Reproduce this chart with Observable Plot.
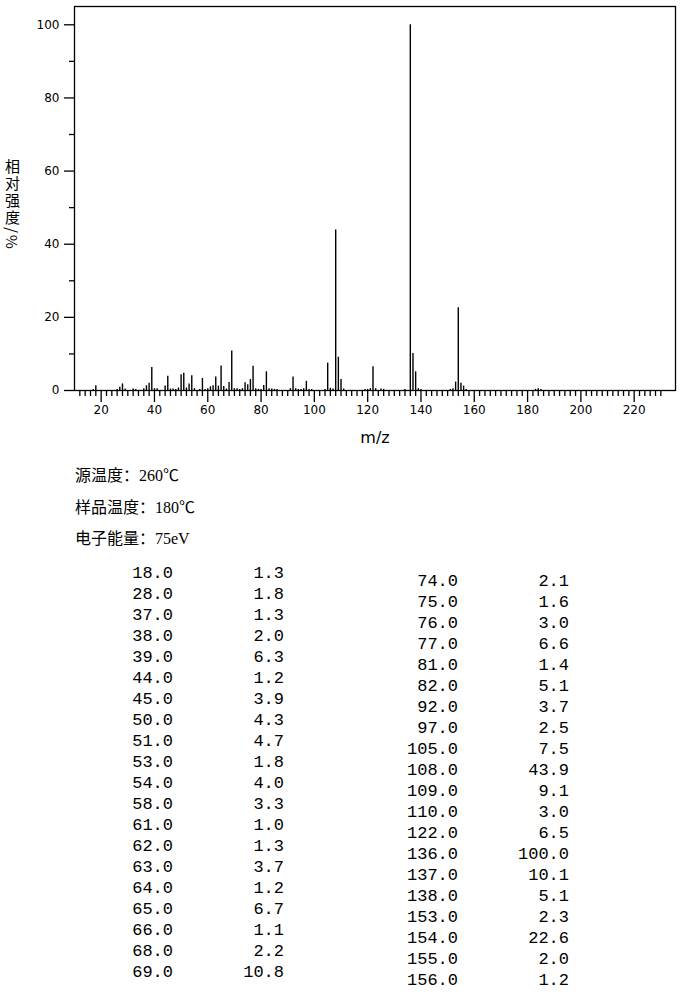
<!DOCTYPE html>
<html>
<head>
<meta charset="utf-8">
<script src="https://cdn.jsdelivr.net/npm/d3@7"></script>
<script src="https://cdn.jsdelivr.net/npm/@observablehq/plot@0.6"></script>
<style>
  body { margin: 0; background: #fff; }
  #wrap { position: relative; width: 680px; height: 992px; overflow: hidden; }
  #ylab { position: absolute; left: 2px; top: 159px; writing-mode: vertical-rl; text-orientation: mixed; font-family: "Noto Sans CJK SC", sans-serif; font-size: 15px; line-height: 20px; letter-spacing: 2px; color: #000; white-space: nowrap; }
  .cond { position: absolute; left: 75px; font-family: "Liberation Serif", "Noto Sans CJK SC", serif; font-size: 16px; line-height: 18px; color: #000; white-space: nowrap; }
  .cell { position: absolute; font-family: "Liberation Mono", "DejaVu Sans Mono", monospace; font-size: 17px; line-height: 20px; color: #000; text-align: right; white-space: pre; }
</style>
</head>
<body>
<div id="wrap">
  <div id="chart"></div>
  <div id="ylab"></div>
</div>
<script>
// Peaks listed in the table (relative intensity >= 1%)
const tableMz = [18,28,37,38,39,44,45,50,51,53,54,58,61,62,63,64,65,66,68,69,
                 74,75,76,77,81,82,92,97,105,108,109,110,122,136,137,138,153,154,155,156];
const tableInt = [1.3,1.8,1.3,2.0,6.3,1.2,3.9,4.3,4.7,1.8,4.0,3.3,1.0,1.3,3.7,1.2,6.7,1.1,2.2,10.8,
                  2.1,1.6,3.0,6.6,1.4,5.1,3.7,2.5,7.5,43.9,9.1,3.0,6.5,100.0,10.1,5.1,2.3,22.6,2.0,1.2];
// Small peaks visible in the spectrum only (estimated, < 1%)
const minorMz = [17,26,27,29,32,33,36,40,41,46,47,48,49,52,55,57,59,60,67,70,71,72,73,78,79,80,
                 83,84,85,86,91,93,94,95,96,98,99,104,106,107,111,119,120,121,123,125,126,134,139,140,
                 151,152,157,183,184,185];
const minorInt = [0.3,0.3,0.9,0.4,0.4,0.3,0.5,0.5,0.5,0.4,0.4,0.3,0.7,0.7,0.5,0.3,0.3,0.5,0.4,0.5,0.5,0.3,0.5,0.5,0.3,0.3,
                  0.5,0.4,0.3,0.3,0.5,0.5,0.3,0.3,0.5,0.3,0.3,0.3,0.6,0.4,0.4,0.3,0.3,0.5,0.5,0.4,0.3,0.3,0.5,0.3,
                  0.3,0.5,0.3,0.3,0.5,0.3];
const xMajorTicks = [20,40,60,80,100,120,140,160,180,200,220];
const yMajorTicks = [0,20,40,60,80,100];
const yMinorTicks = [10,30,50,70,90];
const conditions = ["源温度：260℃", "样品温度：180℃", "电子能量：75eV"];
const yLabel = "相对强度/%";

const peaks = tableMz.map((m, i) => ({mz: m, int: tableInt[i]}))
  .concat(minorMz.map((m, i) => ({mz: m, int: minorInt[i]})));
const xMinorTicks = d3.range(12, 231, 2).filter(v => v % 20 !== 0);

const chart = Plot.plot({
  width: 680,
  height: 455,
  marginLeft: 74,
  marginRight: 5,
  marginTop: 6,
  marginBottom: 65,
  style: {fontFamily: "DejaVu Sans, sans-serif", fontSize: "12px", color: "#000", background: "#fff"},
  x: {domain: [10, 235.5]},
  y: {domain: [0, 105]},
  marks: [
    Plot.frame({stroke: "#000", strokeWidth: 1.3}),
    Plot.axisY({ticks: yMajorTicks, tickSize: 10, tickPadding: 5, label: null, stroke: "#000", strokeWidth: 1.3}),
    Plot.axisY({ticks: yMinorTicks, tickSize: 5, text: null, label: null, stroke: "#000", strokeWidth: 1.3}),
    Plot.axisX({ticks: xMajorTicks, tickSize: 12, tickPadding: 3, label: null, stroke: "#000", strokeWidth: 1.3}),
    Plot.axisX({ticks: xMinorTicks, tickSize: 6, text: null, label: null, stroke: "#000", strokeWidth: 1.3}),
    Plot.ruleX(peaks, {x: "mz", y1: 0, y2: "int", stroke: "#000", strokeWidth: 1.4}),
    Plot.text(["m/z"], {frameAnchor: "bottom", dy: 52, fontSize: 16, fill: "#000", style: "letter-spacing:3px"})
  ]
});
document.getElementById("chart").appendChild(chart);

document.getElementById("ylab").textContent = yLabel;

const wrap = document.getElementById("wrap");
conditions.forEach((t, i) => {
  const d = document.createElement("div");
  d.className = "cond";
  d.style.top = (467 + i * 31.5) + "px";
  d.textContent = t;
  wrap.appendChild(d);
});

function addCell(text, right, centerY) {
  const d = document.createElement("div");
  d.className = "cell";
  d.style.right = (680 - right) + "px";
  d.style.top = (centerY - 10) + "px";
  d.textContent = text;
  wrap.appendChild(d);
}
tableMz.forEach((m, i) => {
  const left = i < 20;
  const row = left ? i : i - 20;
  const cy = (left ? 574 : 582) + row * 21;
  addCell(m.toFixed(1), left ? 173 : 458, cy);
  addCell(tableInt[i].toFixed(1), left ? 284 : 569, cy);
});
</script>
</body>
</html>
